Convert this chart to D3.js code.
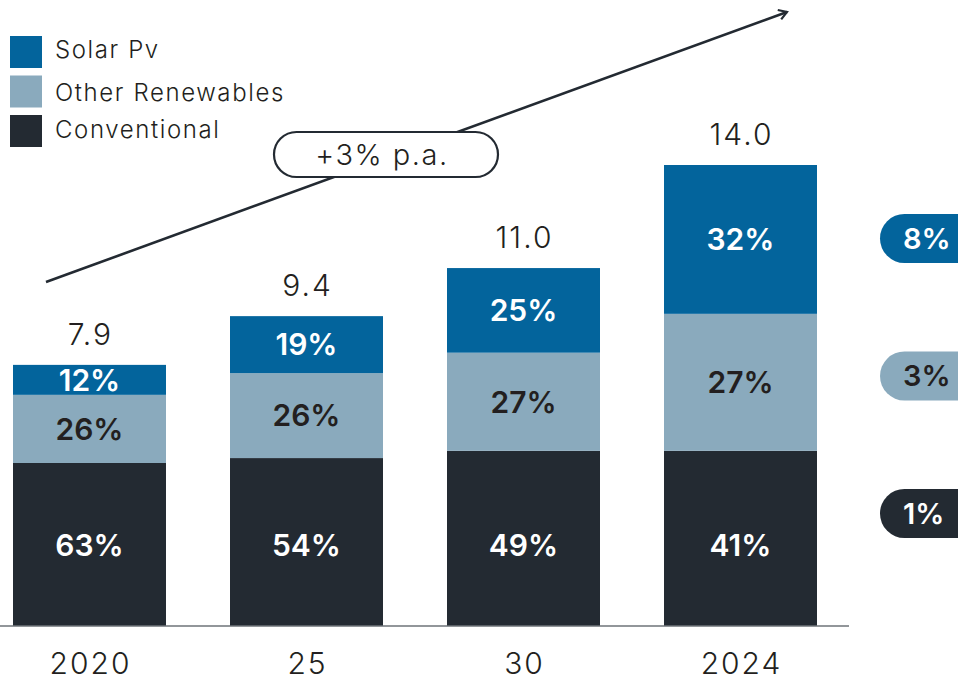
<!DOCTYPE html>
<html>
<head>
<meta charset="utf-8">
<script src="https://cdn.jsdelivr.net/npm/d3@7"></script>
<style>
  html, body { margin: 0; padding: 0; background: #fff; }
  svg { display: block; font-family: Inter, "Noto Sans", sans-serif; }
</style>
</head>
<body>
<svg id="chart" width="958" height="678"></svg>
<script>
// ---- data ----
const categories = ["2020", "25", "30", "2024"];
const totalLabels = ["7.9", "9.4", "11.0", "14.0"];
const conventional = [4.95, 5.10, 5.32, 5.32];
const otherRenewables = [2.07, 2.58, 2.98, 4.16];
const solarPv = [0.91, 1.73, 2.57, 4.52];
const conventionalPct = ["63%", "54%", "49%", "41%"];
const otherPct = ["26%", "26%", "27%", "27%"];
const solarPct = ["12%", "19%", "25%", "32%"];
const seriesNames = ["Solar Pv", "Other Renewables", "Conventional"];
const growthLabels = ["8%", "3%", "1%"];
const trendLabel = "+3% p.a.";

// ---- layout / style ----
const colors = { solar: "#03649c", other: "#8aaabd", conv: "#232a32" };
const darkText = "#231f20";
const convLabelY = 545;
const pillCenterY = [238.5, 376, 513.5];
const legendBaselines = [58, 101, 138];

const svg = d3.select("#chart");

const x = d3.scaleBand().domain(categories).range([13, 817]).paddingInner(0.295);
const y = d3.scaleLinear().domain([0, 14]).range([626, 165]);

const rows = categories.map((c, i) => ({
  cat: c, conv: conventional[i], other: otherRenewables[i], solar: solarPv[i]
}));
const stacked = d3.stack().keys(["conv", "other", "solar"])(rows);
const pctLabels = { conv: conventionalPct, other: otherPct, solar: solarPct };
const labelColors = { conv: "#ffffff", other: darkText, solar: "#ffffff" };

// bars
const layers = svg.append("g").selectAll("g").data(stacked).join("g")
  .attr("fill", d => colors[d.key]);
layers.selectAll("rect").data(d => d).join("rect")
  .attr("x", d => x(d.data.cat))
  .attr("width", x.bandwidth())
  .attr("y", d => y(d[1]))
  .attr("height", d => y(d[0]) - y(d[1]));

// segment labels
stacked.forEach(layer => {
  svg.append("g").selectAll("text").data(layer).join("text")
    .attr("x", d => x(d.data.cat) + x.bandwidth() / 2)
    .attr("y", d => layer.key === "conv" ? convLabelY : (y(d[0]) + y(d[1])) / 2)
    .attr("dy", "0.36em")
    .attr("text-anchor", "middle")
    .attr("font-size", 30)
    .attr("font-weight", 600)
    .attr("fill", labelColors[layer.key])
    .text((d, i) => pctLabels[layer.key][i]);
});

// totals
svg.append("g").selectAll("text").data(categories).join("text")
  .attr("x", d => x(d) + x.bandwidth() / 2 + 1)
  .attr("y", (d, i) => y(d3.sum([conventional[i], otherRenewables[i], solarPv[i]])) - 20)
  .attr("text-anchor", "middle")
  .attr("font-size", 30)
  .attr("font-weight", 300)
  .attr("letter-spacing", 2)
  .attr("fill", darkText)
  .text((d, i) => totalLabels[i]);

// baseline
svg.append("line")
  .attr("x1", 0).attr("x2", 849)
  .attr("y1", y(0)).attr("y2", y(0))
  .attr("stroke", "#6e7378").attr("stroke-width", 1.5);

// x axis
const ax = svg.append("g").attr("transform", `translate(0,${y(0)})`)
  .call(d3.axisBottom(x).tickSize(0).tickPadding(27));
ax.select(".domain").remove();
ax.selectAll("text")
  .attr("font-size", 30).attr("font-weight", 300)
  .attr("letter-spacing", 2)
  .attr("dx", 1)
  .attr("font-family", "Inter, 'Noto Sans', sans-serif")
  .attr("fill", darkText);

// legend
const legendColors = [colors.solar, colors.other, colors.conv];
const lg = svg.append("g").selectAll("g").data(seriesNames).join("g");
lg.append("rect")
  .attr("x", 10).attr("y", (d, i) => 36 + i * 39.5)
  .attr("width", 32).attr("height", 32)
  .attr("fill", (d, i) => legendColors[i]);
lg.append("text")
  .attr("x", 55).attr("y", (d, i) => legendBaselines[i])
  .attr("font-size", 24).attr("font-weight", 300)
  .attr("letter-spacing", 1.6)
  .attr("fill", darkText)
  .text(d => d);

// trend arrow
svg.append("defs").append("marker")
  .attr("id", "arrowhead").attr("viewBox", "0 0 12 12")
  .attr("refX", 10).attr("refY", 6)
  .attr("markerWidth", 12).attr("markerHeight", 12)
  .attr("markerUnits", "userSpaceOnUse")
  .attr("orient", "auto")
  .append("path").attr("d", "M2,1 L10,6 L2,11")
  .attr("fill", "none").attr("stroke", colors.conv).attr("stroke-width", 2.2);
svg.append("line")
  .attr("x1", 46).attr("y1", 282).attr("x2", 787).attr("y2", 12)
  .attr("stroke", colors.conv).attr("stroke-width", 2.6)
  .attr("marker-end", "url(#arrowhead)");

// trend pill
svg.append("rect")
  .attr("x", 274).attr("y", 132).attr("width", 224).attr("height", 45)
  .attr("rx", 22.5).attr("ry", 22.5)
  .attr("fill", "#fff").attr("stroke", colors.conv).attr("stroke-width", 2.2);
svg.append("text")
  .attr("x", 382).attr("y", 155).attr("dy", "0.36em")
  .attr("text-anchor", "middle")
  .attr("font-size", 29).attr("font-weight", 300)
  .attr("letter-spacing", 1.5)
  .attr("fill", darkText)
  .text(trendLabel);

// growth pills
const pillKeys = ["solar", "other", "conv"];
const pillTextColors = ["#ffffff", darkText, "#ffffff"];
const pills = svg.append("g").selectAll("g").data(growthLabels).join("g")
  .attr("transform", (d, i) => `translate(880,${pillCenterY[i]})`);
pills.append("rect")
  .attr("x", 0).attr("y", -24.5).attr("width", 110).attr("height", 49)
  .attr("rx", 24.5).attr("ry", 24.5)
  .attr("fill", (d, i) => colors[pillKeys[i]]);
pills.append("text")
  .attr("x", 23).attr("dy", "0.36em")
  .attr("font-size", 29).attr("font-weight", 600)
  .attr("fill", (d, i) => pillTextColors[i])
  .text(d => d);
</script>
</body>
</html>
